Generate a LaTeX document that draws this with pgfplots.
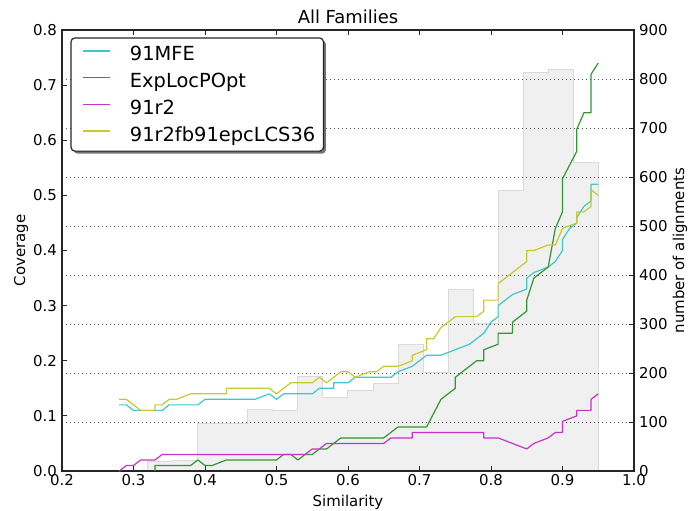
\documentclass[border=0pt]{standalone}
\usepackage{fontspec}
\setmainfont{DejaVu Sans}
\usepackage{pgfplots}
\pgfplotsset{compat=1.18}
\usetikzlibrary{backgrounds}

\definecolor{cmfe}{RGB}{60,200,205}
\definecolor{cexp}{RGB}{50,150,50}
\definecolor{crtwo}{RGB}{200,50,200}
\definecolor{clcs}{RGB}{200,200,50}
\definecolor{histfill}{RGB}{240,240,240}
\definecolor{histedge}{RGB}{218,218,218}

\begin{document}
\begin{tikzpicture}
\path[use as bounding box] (-62bp,-40bp) rectangle (626bp,471bp);

% right axis: histogram of alignments
\begin{axis}[
  scale only axis, width=572bp, height=441bp,
  xmin=0.2, xmax=1.0, ymin=0, ymax=900,
  axis x line=none, axis y line*=right,
  axis on top,
  ytick={0,100,...,900},
  ytick pos=right, yticklabel pos=right,
  tick align=inside, major tick length=5bp,
  ymajorgrids,
  grid style={black!70, line width=0.6bp, dash pattern=on 1bp off 3bp},
  axis line style={black!85, line width=1.2bp},
  tick style={black!85, line width=0.8bp},
  /pgf/number format/assume math mode=true,
  tick label style={font=\fontsize{15}{18}\selectfont},
  yticklabel style={anchor=west, inner sep=0pt, xshift=5bp},
]
\addplot[const plot, fill=histfill, draw=histedge, line width=1bp] coordinates {
  (0.25,2)(0.285,1)(0.32,19)(0.355,22)(0.39,97)(0.425,97)(0.46,126)(0.495,124)
  (0.53,192)(0.565,150)(0.60,165)(0.635,179)(0.67,258)(0.705,200)(0.74,370)
  (0.775,300)(0.81,572)(0.845,813)(0.88,820)(0.915,629)(0.95,629)
} \closedcycle;
\end{axis}

% left axis: coverage
\begin{axis}[
  scale only axis, width=572bp, height=441bp,
  xmin=0.2, xmax=1.0, ymin=0, ymax=0.8,
  xtick={0.2,0.3,...,1.0}, ytick={0,0.1,...,0.8},
  xtick pos=both, xticklabel pos=lower, ytick pos=left,
  tick align=inside, major tick length=5bp,
  axis line style={black!85, line width=1.2bp},
  tick style={black!85, line width=0.8bp},
  /pgf/number format/.cd, fixed, fixed zerofill, precision=1, assume math mode=true,
  /pgfplots/.cd,
  tick label style={font=\fontsize{15}{18}\selectfont},
  xticklabel style={inner sep=0pt, yshift=-3.5bp},
  yticklabel style={inner sep=0pt, xshift=-5bp},
  title={All Families},
  title style={font=\fontsize{18}{21}\selectfont, at={(0.5,1)}, anchor=base, inner sep=0pt, yshift=1bp},
  xlabel={Similarity},
  xlabel style={font=\fontsize{15}{18}\selectfont, at={(0.5,0)}, anchor=base, inner sep=0pt, yshift=-35bp},
  every axis plot/.append style={line width=1.2bp, line join=round},
  legend cell align=left,
  legend image code/.code={%
    \path[draw=none] (0bp,0.35em) -- (4bp,0.35em);
    \draw[#1] (4bp,0.35em) -- (31bp,0.35em);},
  legend style={name=leg, at={(0.0157,0.982)}, anchor=north west,
    font=\fontsize{19.5}{23}\selectfont,
    draw=none, fill=white,
    inner xsep=8bp, inner ysep=3bp,
    nodes={inner sep=0pt, minimum height=26.7bp},
    /tikz/every odd column/.append style={column sep=19bp},
  },
]
\addlegendimage{draw=cmfe, line width=1.5bp}
\addlegendentry{91MFE}
\addlegendimage{draw=cexp, line width=1.5bp}
\addlegendentry{ExpLocPOpt}
\addlegendimage{draw=crtwo, line width=1.5bp}
\addlegendentry{91r2}
\addlegendimage{draw=clcs, line width=1.5bp}
\addlegendentry{91r2fb91epcLCS36}

\addplot[draw=cmfe, forget plot] coordinates {
  (0.28,0.12)(0.29,0.12)(0.30,0.11)(0.34,0.11)(0.35,0.12)(0.39,0.12)(0.40,0.13)
  (0.47,0.13)(0.49,0.14)(0.50,0.13)(0.51,0.14)(0.55,0.14)(0.56,0.15)(0.58,0.15)
  (0.58,0.16)(0.60,0.16)(0.61,0.17)(0.66,0.17)(0.67,0.18)(0.69,0.19)(0.71,0.21)
  (0.73,0.21)(0.75,0.22)(0.77,0.23)(0.78,0.24)(0.79,0.25)(0.80,0.27)(0.81,0.28)
  (0.81,0.30)(0.82,0.31)(0.83,0.32)(0.85,0.33)(0.85,0.35)(0.86,0.36)(0.88,0.37)
  (0.89,0.38)(0.90,0.40)(0.90,0.42)(0.91,0.44)(0.92,0.45)(0.92,0.46)(0.93,0.48)
  (0.94,0.49)(0.94,0.52)(0.95,0.52)
};
\addplot[draw=cexp, forget plot] coordinates {
  (0.33,0)(0.33,0.01)(0.38,0.01)(0.39,0.02)(0.40,0.01)(0.41,0.01)(0.43,0.02)
  (0.50,0.02)(0.51,0.03)(0.52,0.03)(0.53,0.02)(0.54,0.03)(0.55,0.03)(0.56,0.04)
  (0.57,0.04)(0.59,0.06)(0.65,0.06)(0.67,0.08)(0.71,0.08)(0.73,0.13)(0.75,0.15)
  (0.75,0.17)(0.78,0.20)(0.79,0.20)(0.79,0.22)(0.81,0.23)(0.81,0.25)(0.83,0.25)
  (0.83,0.27)(0.85,0.29)(0.85,0.31)(0.86,0.35)(0.87,0.36)(0.88,0.37)(0.89,0.44)
  (0.90,0.47)(0.90,0.53)(0.92,0.58)(0.92,0.62)(0.93,0.65)(0.94,0.65)(0.94,0.72)
  (0.95,0.74)
};
\addplot[draw=crtwo, forget plot] coordinates {
  (0.28,0)(0.29,0.01)(0.30,0.01)(0.31,0.02)(0.33,0.02)(0.34,0.03)(0.54,0.03)
  (0.55,0.04)(0.56,0.04)(0.57,0.05)(0.65,0.05)(0.66,0.06)(0.69,0.06)(0.69,0.07)
  (0.79,0.07)(0.79,0.06)(0.81,0.06)(0.85,0.04)(0.86,0.05)(0.88,0.06)(0.89,0.07)
  (0.90,0.07)(0.90,0.09)(0.92,0.10)(0.92,0.11)(0.94,0.11)(0.94,0.13)(0.95,0.14)
};
\addplot[draw=clcs, forget plot] coordinates {
  (0.28,0.13)(0.29,0.13)(0.31,0.11)(0.33,0.11)(0.33,0.12)(0.34,0.12)(0.35,0.13)
  (0.36,0.13)(0.38,0.14)(0.43,0.14)(0.43,0.15)(0.49,0.15)(0.50,0.14)(0.52,0.16)
  (0.55,0.16)(0.56,0.17)(0.57,0.16)(0.59,0.18)(0.60,0.18)(0.61,0.17)(0.63,0.18)
  (0.64,0.18)(0.65,0.19)(0.67,0.19)(0.69,0.20)(0.69,0.21)(0.71,0.22)(0.71,0.24)
  (0.72,0.24)(0.73,0.26)(0.74,0.27)(0.75,0.28)(0.78,0.28)(0.79,0.29)(0.79,0.31)
  (0.81,0.31)(0.81,0.34)(0.85,0.38)(0.85,0.40)(0.86,0.40)(0.88,0.41)(0.89,0.41)
  (0.90,0.44)(0.92,0.45)(0.92,0.47)(0.93,0.47)(0.94,0.48)(0.94,0.51)(0.95,0.50)
};
\end{axis}

% legend frame and shadow
\begin{pgfonlayer}{background}
\fill[black!55, rounded corners=4bp]
  ([xshift=2.5bp,yshift=-2.5bp]leg.south west) rectangle ([xshift=2.5bp,yshift=-2.5bp]leg.north east);
\end{pgfonlayer}
\draw[black!85, line width=1.2bp, rounded corners=4bp] (leg.south west) rectangle (leg.north east);

\node[rotate=90, anchor=base, inner sep=0pt, font=\fontsize{15}{18}\selectfont] at (-37bp,220.5bp) {Coverage};
\node[rotate=90, anchor=base, inner sep=0pt, font=\fontsize{15}{18}\selectfont] at (622bp,220.5bp) {number of alignments};
\end{tikzpicture}
\end{document}
